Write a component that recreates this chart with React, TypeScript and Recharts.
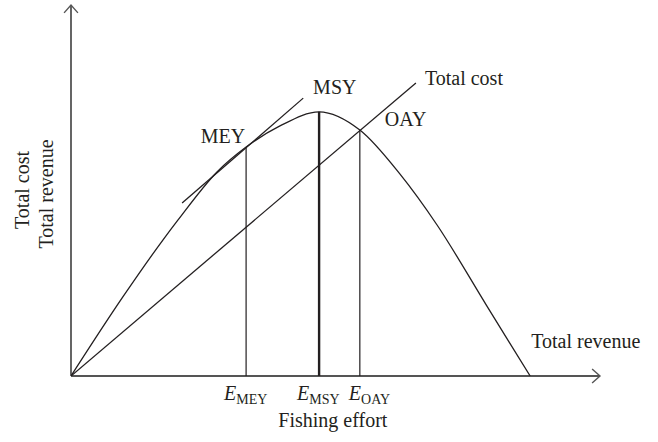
import React from 'react';
import { ComposedChart, Line, XAxis, YAxis, ReferenceLine, ReferenceDot } from 'recharts';

// total revenue curve (effort vs revenue)
const effort = [0, 9.8, 17.4, 20.2, 27.6, 33.1, 39.5, 46.9, 54.6, 62.2, 69.2, 78.6, 86.8];
const revenue = [0, 21.3, 36.7, 42.0, 55.0, 61.7, 67.4, 71.2, 66.3, 54.4, 40.7, 18.9, 0];

// total cost line
const costEffort = [0, 65.2];
const cost = [0, 79.0];

// tangent at MEY
const tangentEffort = [21.0, 43.9];
const tangent = [46.6, 74.9];

// reference efforts
const refNames = ['MEY', 'MSY', 'OAY'];
const refEffort = [33.1, 46.9, 54.6];
const refYield = [61.7, 71.2, 66.3];

const revenueData = effort.map((x, i) => ({ x, y: revenue[i] }));
const costData = costEffort.map((x, i) => ({ x, y: cost[i] }));
const tangentData = tangentEffort.map((x, i) => ({ x, y: tangent[i] }));

const INK = '#231f20';
const AXIS = '#555';
const FONT = '"Liberation Serif", "DejaVu Serif", serif';

const ArrowLine = (p: any) => {
  const { x1, y1, x2, y2 } = p;
  const ang = Math.atan2(y2 - y1, x2 - x1);
  const L = 10.5;
  const W = 0.72;
  const ax = x2 - L * Math.cos(ang - W);
  const ay = y2 - L * Math.sin(ang - W);
  const bx = x2 - L * Math.cos(ang + W);
  const by = y2 - L * Math.sin(ang + W);
  return (
    <g>
      <line x1={x1} y1={y1} x2={x2} y2={y2} stroke={AXIS} strokeWidth={1.8} />
      <polyline points={`${ax},${ay} ${x2},${y2} ${bx},${by}`} fill="none" stroke={AXIS} strokeWidth={1.4} />
    </g>
  );
};

// text drawn at a data point, shifted by dx/dy pixels
const label = (text: string, dx: number, dy: number, anchor = 'start') => (p: any) => (
  <text x={p.cx + dx} y={p.cy + dy} textAnchor={anchor} fontFamily={FONT} fontSize={20} fill={INK}>
    {text}
  </text>
);

const effortLabel = (sub: string, dx: number) => (p: any) => (
  <text x={p.cx + dx} y={p.cy + 24} fontFamily={FONT} fontSize={20} fill={INK}>
    <tspan fontStyle="italic">E</tspan>
    <tspan fontSize={14} dy={4}>{sub}</tspan>
  </text>
);

const yTitle = (p: any) => (
  <g fontFamily={FONT} fontSize={20} fill={INK} textAnchor="middle">
    <text transform={`translate(${p.cx - 42},${p.cy - 2}) rotate(-90)`}>Total cost</text>
    <text transform={`translate(${p.cx - 18},${p.cy + 2}) rotate(-90)`}>Total revenue</text>
  </g>
);

const effortDx = [-22, -22, -11];

export default function App() {
  return (
    <div style={{ position: 'absolute', left: 0, top: 0, background: '#fff' }}>
      <ComposedChart width={658} height={442} margin={{ top: 5, right: 58, bottom: 66, left: 71 }}>
        <XAxis type="number" dataKey="x" domain={[0, 100]} hide allowDataOverflow />
        <YAxis type="number" dataKey="y" domain={[0, 100]} hide allowDataOverflow />

        {/* axes with open arrowheads */}
        <ReferenceLine segment={[{ x: 0, y: 0 }, { x: 100, y: 0 }]} ifOverflow="visible" shape={ArrowLine} />
        <ReferenceLine segment={[{ x: 0, y: 0 }, { x: 0, y: 100 }]} ifOverflow="visible" shape={ArrowLine} />

        {refEffort.map((e, i) => (
          <ReferenceLine
            key={refNames[i]}
            segment={[{ x: e, y: 0 }, { x: e, y: refYield[i] }]}
            stroke={INK}
            strokeWidth={refNames[i] === 'MSY' ? 2.4 : 1.2}
            ifOverflow="visible"
          />
        ))}

        <Line data={revenueData} dataKey="y" type="monotone" stroke={INK} strokeWidth={1.3} dot={false} activeDot={false} isAnimationActive={false} />
        <Line data={costData} dataKey="y" type="linear" stroke={INK} strokeWidth={1.3} dot={false} activeDot={false} isAnimationActive={false} />
        <Line data={tangentData} dataKey="y" type="linear" stroke={INK} strokeWidth={1.3} dot={false} activeDot={false} isAnimationActive={false} />

        {/* point labels */}
        <ReferenceDot x={refEffort[0]} y={refYield[0]} ifOverflow="visible" shape={label('MEY', -1, -4, 'end')} />
        <ReferenceDot x={refEffort[1]} y={refYield[1]} ifOverflow="visible" shape={label('MSY', -6, -18)} />
        <ReferenceDot x={refEffort[2]} y={refYield[2]} ifOverflow="visible" shape={label('OAY', 25, -4)} />
        <ReferenceDot x={costEffort[1]} y={cost[1]} ifOverflow="visible" shape={label('Total cost', 9, 2)} />
        <ReferenceDot x={effort[effort.length - 1]} y={0} ifOverflow="visible" shape={label('Total revenue', 1, -28)} />

        {refEffort.map((e, i) => (
          <ReferenceDot key={'e' + i} x={e} y={0} ifOverflow="visible" shape={effortLabel(refNames[i], effortDx[i])} />
        ))}

        <ReferenceDot x={49.5} y={0} ifOverflow="visible" shape={label('Fishing effort', 0, 51, 'middle')} />
        <ReferenceDot x={0} y={49.6} ifOverflow="visible" shape={yTitle} />
      </ComposedChart>
    </div>
  );
}
